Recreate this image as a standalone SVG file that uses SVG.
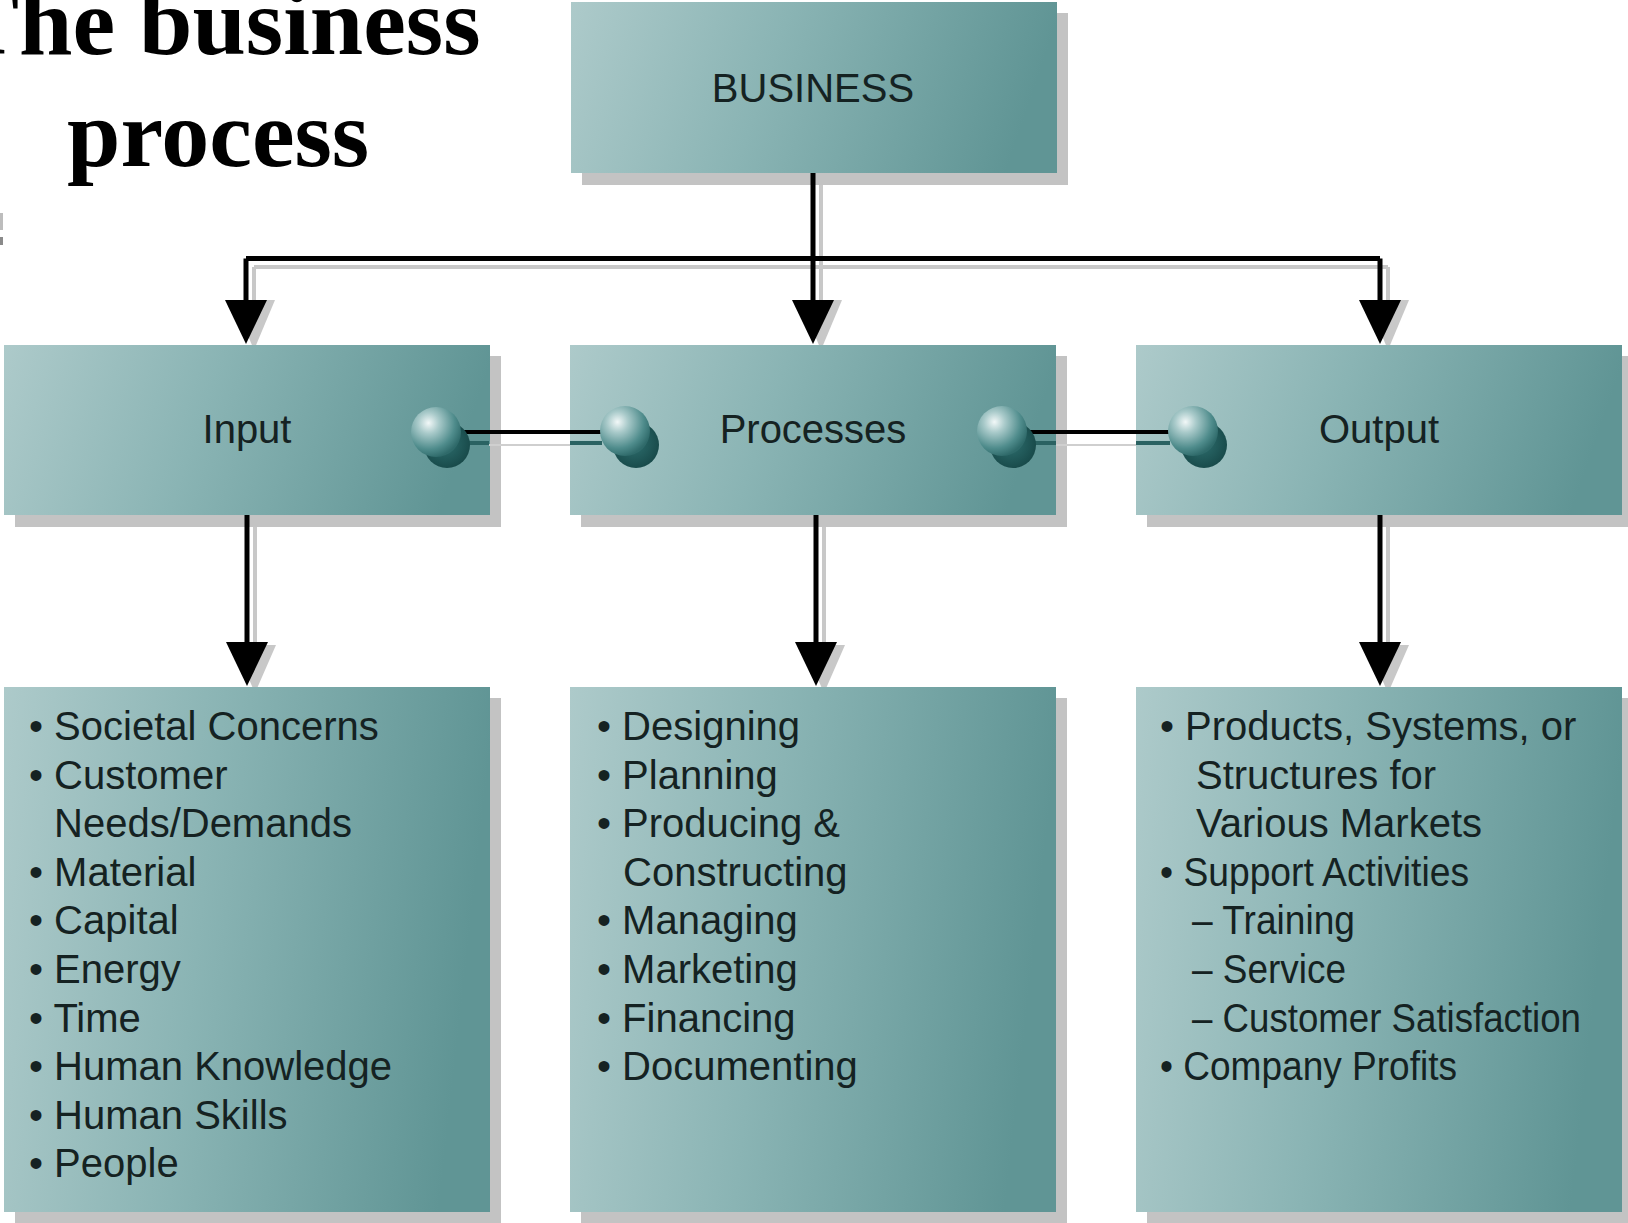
<svg xmlns="http://www.w3.org/2000/svg" width="1628" height="1223" viewBox="0 0 1628 1223">
<defs>
<linearGradient id="boxg" x1="0" y1="0" x2="1" y2="0.12">
<stop offset="0" stop-color="#adcaca"/>
<stop offset="0.45" stop-color="#8ab4b4"/>
<stop offset="1" stop-color="#609595"/>
</linearGradient>
<radialGradient id="ballg" cx="0.35" cy="0.32" r="0.7">
<stop offset="0" stop-color="#f2f8f8"/>
<stop offset="0.3" stop-color="#a9caca"/>
<stop offset="0.75" stop-color="#4f8c8c"/>
<stop offset="1" stop-color="#2f6a6a"/>
</radialGradient>
<radialGradient id="ballsh" cx="0.45" cy="0.45" r="0.6">
<stop offset="0" stop-color="#2f7070"/>
<stop offset="1" stop-color="#174848"/>
</radialGradient>
</defs>
<style>
.shadow{fill:#c3c3c3}
.box{fill:url(#boxg)}
.lbl{font-family:"Liberation Sans",Arial,sans-serif;font-size:40px;fill:#152222;text-anchor:middle}
.list{font-family:"Liberation Sans",Arial,sans-serif;font-size:40px;fill:#152222}
.title{font-family:"Liberation Serif","Times New Roman",serif;font-size:96px;font-weight:bold;fill:#000}
.wire{fill:none;stroke:#000;stroke-width:5}
.wsh{fill:none;stroke:#c8c8c8;stroke-width:4}
.head{fill:#000}
.hsh{fill:#c8c8c8}
</style>

<g id="title">
<text class="title" x="-45" y="54">The business</text>
<text class="title" x="67" y="166">process</text>
<rect x="0" y="213" width="3" height="17" fill="#bdbdbd"/>
<rect x="0" y="237" width="3" height="8" fill="#8a8a8a"/>
</g>

<g id="connector-shadows">
<path class="wsh" d="M821 185 V300 M254 267 H1388 M254 267 V300 M1388 267 V300 M255 527 V645 M824 527 V645 M1388 527 V645"/>
<polygon class="hsh" points="233,300 275,300 254,350"/>
<polygon class="hsh" points="800,300 842,300 821,350"/>
<polygon class="hsh" points="1367,300 1409,300 1388,350"/>
<polygon class="hsh" points="234,645 276,645 255,693"/>
<polygon class="hsh" points="803,645 845,645 824,693"/>
<polygon class="hsh" points="1367,645 1409,645 1388,693"/>
</g>

<g id="business">
<rect class="shadow" x="582" y="13" width="486" height="172"/>
<rect class="box" x="571" y="2" width="486" height="171"/>
<text class="lbl" x="813" y="102">BUSINESS</text>
</g>

<g id="input">
<rect class="shadow" x="15" y="356" width="486" height="171"/>
<rect class="box" x="4" y="345" width="486" height="170"/>
<text class="lbl" x="247" y="443">Input</text>
</g>

<g id="processes">
<rect class="shadow" x="581" y="356" width="486" height="171"/>
<rect class="box" x="570" y="345" width="486" height="170"/>
<text class="lbl" x="813" y="443">Processes</text>
</g>

<g id="output">
<rect class="shadow" x="1147" y="356" width="486" height="171"/>
<rect class="box" x="1136" y="345" width="486" height="170"/>
<text class="lbl" x="1379" y="443">Output</text>
</g>

<g id="input-list">
<rect class="shadow" x="15" y="698" width="486" height="525"/>
<rect class="box" x="4" y="687" width="486" height="525"/>
<text class="list" x="29" y="740">• Societal Concerns</text>
<text class="list" x="29" y="788.6">• Customer</text>
<text class="list" x="54" y="837.2">Needs/Demands</text>
<text class="list" x="29" y="885.8">• Material</text>
<text class="list" x="29" y="934.4">• Capital</text>
<text class="list" x="29" y="983">• Energy</text>
<text class="list" x="29" y="1031.6">• Time</text>
<text class="list" x="29" y="1080.2">• Human Knowledge</text>
<text class="list" x="29" y="1128.8">• Human Skills</text>
<text class="list" x="29" y="1177.4">• People</text>
</g>

<g id="processes-list">
<rect class="shadow" x="581" y="698" width="486" height="525"/>
<rect class="box" x="570" y="687" width="486" height="525"/>
<text class="list" x="597" y="740">• Designing</text>
<text class="list" x="597" y="788.6">• Planning</text>
<text class="list" x="597" y="837.2">• Producing &amp;</text>
<text class="list" x="623" y="885.8">Constructing</text>
<text class="list" x="597" y="934.4">• Managing</text>
<text class="list" x="597" y="983">• Marketing</text>
<text class="list" x="597" y="1031.6">• Financing</text>
<text class="list" x="597" y="1080.2">• Documenting</text>
</g>

<g id="output-list">
<rect class="shadow" x="1147" y="698" width="486" height="525"/>
<rect class="box" x="1136" y="687" width="486" height="525"/>
<text class="list" x="1160" y="740">• Products, Systems, or</text>
<text class="list" x="1196" y="788.6">Structures for</text>
<text class="list" x="1196" y="837.2">Various Markets</text>
<text class="list" x="1160" y="885.8" textLength="309" lengthAdjust="spacingAndGlyphs">• Support Activities</text>
<text class="list" x="1192" y="934.4" textLength="163" lengthAdjust="spacingAndGlyphs">– Training</text>
<text class="list" x="1192" y="983" textLength="154" lengthAdjust="spacingAndGlyphs">– Service</text>
<text class="list" x="1192" y="1031.6" textLength="389" lengthAdjust="spacingAndGlyphs">– Customer Satisfaction</text>
<text class="list" x="1160" y="1080.2" textLength="297" lengthAdjust="spacingAndGlyphs">• Company Profits</text>
</g>

<g id="connectors">
<path class="wire" d="M813 173 V302 M246 258.5 H1380 M246 258.5 V302 M1380 258.5 V302 M247 515 V646 M816 515 V646 M1380 515 V646"/>
<polygon class="head" points="225,300 267,300 246,344"/>
<polygon class="head" points="792,300 834,300 813,344"/>
<polygon class="head" points="1359,300 1401,300 1380,344"/>
<polygon class="head" points="226,642 268,642 247,686"/>
<polygon class="head" points="795,642 837,642 816,686"/>
<polygon class="head" points="1359,642 1401,642 1380,686"/>
<line x1="460" y1="443" x2="489" y2="443" stroke="#2a6262" stroke-width="4"/>
<line x1="489" y1="445" x2="570" y2="445" stroke="#cfcfcf" stroke-width="2"/>
<line x1="570" y1="443" x2="602" y2="443" stroke="#2a6262" stroke-width="4"/>
<line x1="1026" y1="443" x2="1056" y2="443" stroke="#2a6262" stroke-width="4"/>
<line x1="1056" y1="445" x2="1136" y2="445" stroke="#cfcfcf" stroke-width="2"/>
<line x1="1136" y1="443" x2="1170" y2="443" stroke="#2a6262" stroke-width="4"/>
<line x1="460" y1="432" x2="602" y2="432" stroke="#000" stroke-width="4"/>
<line x1="1026" y1="432" x2="1170" y2="432" stroke="#000" stroke-width="4"/>
</g>

<g id="balls">
<circle cx="447" cy="445" r="23" fill="url(#ballsh)"/>
<circle cx="436" cy="432" r="25" fill="url(#ballg)"/>
<circle cx="636" cy="445" r="23" fill="url(#ballsh)"/>
<circle cx="625" cy="431" r="25" fill="url(#ballg)"/>
<circle cx="1013" cy="445" r="23" fill="url(#ballsh)"/>
<circle cx="1002" cy="431" r="25" fill="url(#ballg)"/>
<circle cx="1204" cy="445" r="23" fill="url(#ballsh)"/>
<circle cx="1193" cy="431" r="25" fill="url(#ballg)"/>
</g>
</svg>
